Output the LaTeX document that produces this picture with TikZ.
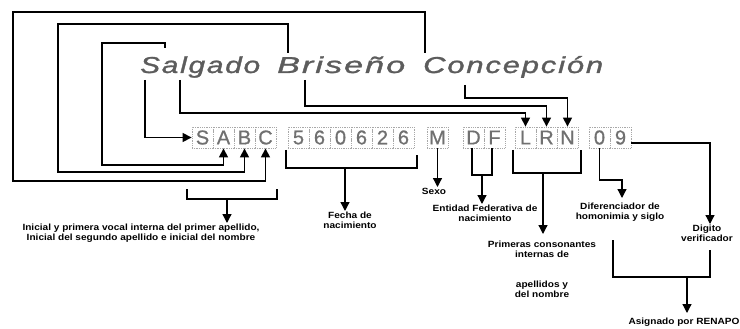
\documentclass[tikz,border=0pt]{standalone}
\usepackage{fontspec}
\setmainfont{Liberation Sans}
\newfontfamily\titlefont[LetterSpace=6,FakeBold=1.2]{Liberation Sans}
\newfontfamily\cellfont[FakeBold=0.8]{Liberation Sans}
\usetikzlibrary{arrows.meta}
\definecolor{lettergray}{HTML}{707070}
\definecolor{titlegray}{HTML}{5C5C5C}
\definecolor{boxgray}{HTML}{A8A8A8}
\tikzset{
  cell/.style={draw=boxgray, densely dotted, line width=0.8pt, minimum width=21pt, minimum height=21pt,
    inner sep=0pt, text=lettergray, font=\cellfont\fontsize{20}{20}\selectfont},
  conn/.style={line width=1.3pt, black},
  arr/.style={conn, -{Triangle[width=9pt,length=9pt]}},
  lbl/.style={font=\fontsize{9}{10}\selectfont\bfseries, align=center, inner sep=1pt, anchor=north,
    xscale=1.12, transform shape},
  tword/.style={anchor=base west, inner sep=0pt, text=titlegray, font=\titlefont\itshape\fontsize{23}{23}\selectfont}
}
\begin{document}
\begin{tikzpicture}[x=1pt,y=-1pt]
\useasboundingbox (0,0) rectangle (740,329);
% title words
\node[tword] (w1) at (140,73) {\resizebox{120pt}{\height}{Salgado}};
\node[tword] (w2) at (277,73) {\resizebox{128pt}{\height}{Briseño}};
\node[tword] (w3) at (423,73) {\resizebox{180pt}{\height}{Concepción}};
% letter anchor points on the title
\coordinate (tS) at (145,80);
\coordinate (ta) at (165,48);
\coordinate (tl) at (180,80);
\coordinate (tB) at (288,53);
\coordinate (tr) at (305,80);
\coordinate (tC) at (425,53);
\coordinate (tn) at (465,85);
% cells
\node[cell] (S) at (202.5,137.5) {S};
\node[cell] (A) at (223.5,137.5) {A};
\node[cell] (B) at (244.5,137.5) {B};
\node[cell] (C) at (265.5,137.5) {C};
\node[cell] (d1) at (298.5,137.5) {5};
\node[cell] (d2) at (319.5,137.5) {6};
\node[cell] (d3) at (340.5,137.5) {0};
\node[cell] (d4) at (361.5,137.5) {6};
\node[cell] (d5) at (382.5,137.5) {2};
\node[cell] (d6) at (403.5,137.5) {6};
\node[cell] (M) at (437.5,137.5) {M};
\node[cell] (D) at (473.5,137.5) {D};
\node[cell] (F) at (494.5,137.5) {F};
\node[cell] (L) at (525.5,137.5) {L};
\node[cell] (R) at (546.5,137.5) {R};
\node[cell] (N) at (567.5,137.5) {N};
\node[cell] (z) at (599.5,137.5) {0};
\node[cell] (n) at (620.5,137.5) {9};
% connectors from the name to the cells
\draw[arr] (tS) |- (S.west);
\draw[arr] (ta) |- (102,43) -- (102,165) -| (A.south);
\draw[arr] (tB) |- (58,24) -- (58,172) -| (B.south);
\draw[arr] (tC) |- (13,12) -- (13,181) -| (C.south);
\draw[arr] (tl) -- (180,113) -| (L.north);
\draw[arr] (tr) -- (305,106) -| (R.north);
\draw[arr] (tn) -- (465,98) -| (N.north);
% labels
\node[lbl] (tABC) at (141,223) {Inicial y primera vocal interna del primer apellido,\\Inicial del segundo apellido e inicial del nombre};
\node[lbl] (tFecha) at (350,211) {Fecha de\\nacimiento};
\node[lbl] (tSexo) at (434,187) {Sexo};
\node[lbl] (tEnt) at (485,204) {Entidad Federativa de\\nacimiento};
\node[lbl] (tPrim) at (542,240) {Primeras consonantes\\internas de};
\node[lbl] (tApe) at (542,280) {apellidos y\\del nombre};
\node[lbl] (tDif) at (620,202) {Diferenciador de\\homonimia y siglo};
\node[lbl] (tDig) at (707,224) {Digito\\verificador};
\node[lbl] (tAsi) at (684,317) {Asignado por RENAPO};
% brackets under the cells
\coordinate (mABC) at (227,199);
\draw[conn] (187,189) |- (277,199) -- (277,189);
\draw[arr] (mABC) -- (mABC |- tABC.north);
\coordinate (mFecha) at (345,168);
\draw[conn] (286,150) |- (417,168) -- (417,155);
\draw[arr] (mFecha) -- (mFecha |- tFecha.north);
\draw[arr] (M.south) -- (M.south |- tSexo.north);
\coordinate (mDF) at (482,175);
\coordinate (fD) at (472,148);
\coordinate (fF) at (492,148);
\draw[conn] (fD) |- (fF |- mDF) -- (fF);
\draw[arr] (mDF) -- (mDF |- tEnt.north);
\coordinate (mLRN) at (543,173);
\draw[conn] (513,150) |- (581,173) -- (581,150);
\draw[arr] (mLRN) -- ([yshift=6pt]mLRN |- tPrim.north);
\coordinate (dif) at (622,180);
\draw[arr] (z.south) -- (z.south |- dif) -- (dif) -- ([yshift=4pt]dif |- tDif.north);
\coordinate (nine) at (631,143);
\coordinate (dig) at (710,143);
\draw[arr] (nine) -- (dig) -- (dig |- tDig.north);
\coordinate (mAsi) at (687,277);
\draw[conn] (613,240) |- (710,277) -- (710,250);
\draw[arr] (mAsi) -- ([yshift=4pt]mAsi |- tAsi.north);
\end{tikzpicture}
\end{document}
